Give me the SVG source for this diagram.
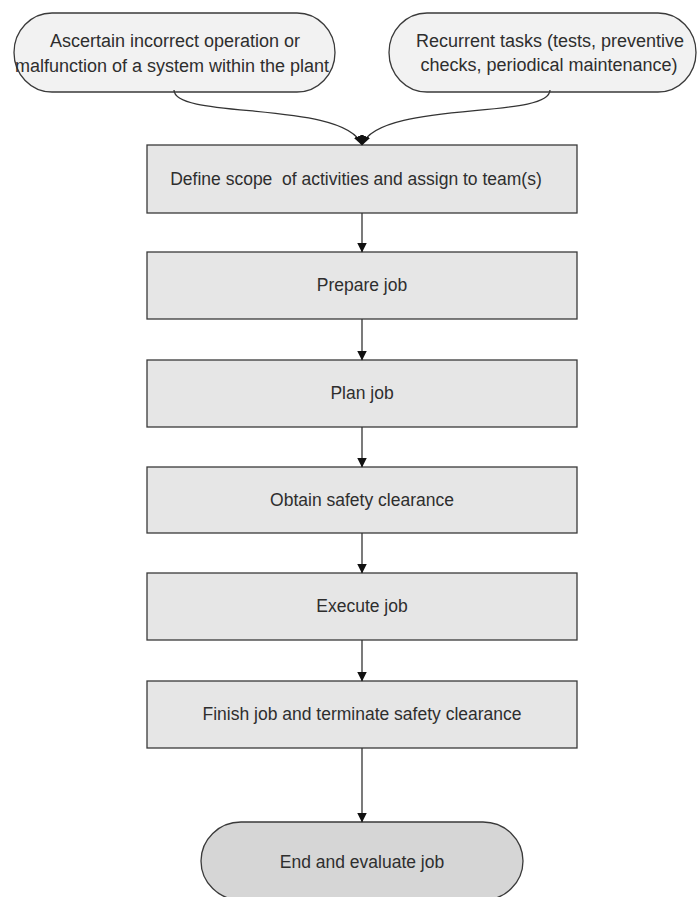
<svg xmlns="http://www.w3.org/2000/svg" width="698" height="897" viewBox="0 0 698 897">
  <style>
    .step { fill: #e6e6e6; stroke: #3a3a3a; stroke-width: 1.3; }
    .start { fill: #f2f2f2; stroke: #3a3a3a; stroke-width: 1.3; }
    .end { fill: #d6d6d6; stroke: #3a3a3a; stroke-width: 1.3; }
    .label { font-family: "Liberation Sans", Arial, sans-serif; font-size: 17.5px; fill: #2e2e2e; text-anchor: middle; white-space: pre; }
    .big { font-size: 18px; }
    .link { fill: none; stroke: #333333; stroke-width: 1.3; }
  </style>
  <defs>
    <marker id="arrow" markerWidth="10" markerHeight="10" refX="9.5" refY="5" orient="auto" markerUnits="userSpaceOnUse">
      <path d="M0,0 L10,5 L0,10 Z" fill="#111111"/>
    </marker>
  </defs>
  <rect width="698" height="897" fill="#ffffff"/>

  <g id="node-ascertain">
    <rect class="start" x="14" y="13" width="321" height="79" rx="38" ry="39.5"/>
    <text class="label big" x="175" y="47">Ascertain incorrect operation or</text>
    <text class="label big" x="172" y="72">malfunction of a system within the plant</text>
  </g>
  <g id="node-recurrent">
    <rect class="start" x="389" y="13" width="307" height="79" rx="38" ry="39.5"/>
    <text class="label big" x="550" y="47">Recurrent tasks (tests, preventive</text>
    <text class="label big" x="549" y="71">checks, periodical maintenance)</text>
  </g>
  <g id="node-define">
    <rect class="step" x="147" y="145" width="430" height="68"/>
    <text class="label" x="356" y="185">Define scope  of activities and assign to team(s)</text>
  </g>
  <g id="node-prepare">
    <rect class="step" x="147" y="252" width="430" height="67"/>
    <text class="label" x="362" y="291">Prepare job</text>
  </g>
  <g id="node-plan">
    <rect class="step" x="147" y="360" width="430" height="67"/>
    <text class="label" x="362" y="399">Plan job</text>
  </g>
  <g id="node-clearance">
    <rect class="step" x="147" y="467" width="430" height="66"/>
    <text class="label" x="362" y="506">Obtain safety clearance</text>
  </g>
  <g id="node-execute">
    <rect class="step" x="147" y="573" width="430" height="67"/>
    <text class="label" x="362" y="612">Execute job</text>
  </g>
  <g id="node-finish">
    <rect class="step" x="147" y="681" width="430" height="67"/>
    <text class="label" x="362" y="720">Finish job and terminate safety clearance</text>
  </g>
  <g id="node-end">
    <rect class="end" x="201" y="822" width="322" height="78" rx="40" ry="39"/>
    <text class="label" x="362" y="868">End and evaluate job</text>
  </g>

  <g id="connectors">
    <path class="link" d="M174,90 C174,120 345,100 362,145" marker-end="url(#arrow)"/>
    <path class="link" d="M550,90 C550,120 379,100 362,145" marker-end="url(#arrow)"/>
    <path class="link" d="M362,213 L362,252" marker-end="url(#arrow)"/>
    <path class="link" d="M362,319 L362,360" marker-end="url(#arrow)"/>
    <path class="link" d="M362,427 L362,467" marker-end="url(#arrow)"/>
    <path class="link" d="M362,533 L362,573" marker-end="url(#arrow)"/>
    <path class="link" d="M362,640 L362,681" marker-end="url(#arrow)"/>
    <path class="link" d="M362,748 L362,822" marker-end="url(#arrow)"/>
  </g>
</svg>
